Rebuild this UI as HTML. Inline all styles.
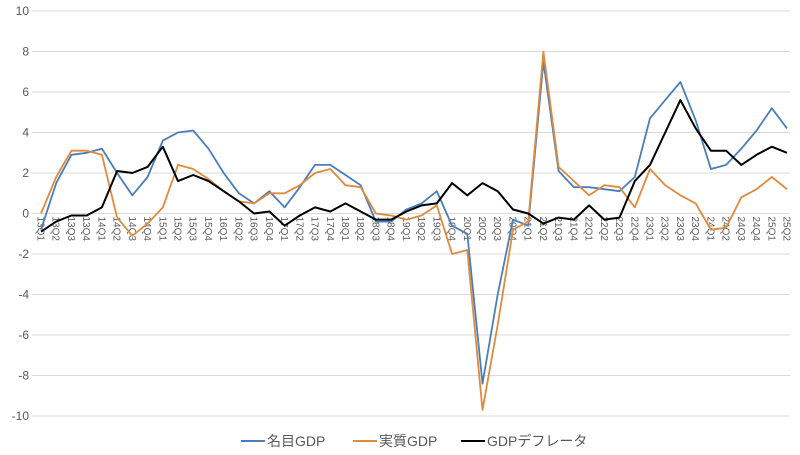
<!DOCTYPE html>
<html><head><meta charset="utf-8">
<style>
body{margin:0;background:#fff;}
svg{display:block;font-family:"Liberation Sans","Noto Sans CJK JP",sans-serif;}
</style></head><body>
<svg id="chart" width="800" height="455" viewBox="0 0 800 455"></svg>
<script>
const categories=["13Q1","13Q2","13Q3","13Q4","14Q1","14Q2","14Q3","14Q4","15Q1","15Q2","15Q3","15Q4","16Q1","16Q2","16Q3","16Q4","17Q1","17Q2","17Q3","17Q4","18Q1","18Q2","18Q3","18Q4","19Q1","19Q2","19Q3","19Q4","20Q1","20Q2","20Q3","20Q4","21Q1","21Q2","21Q3","21Q4","22Q1","22Q2","22Q3","22Q4","23Q1","23Q2","23Q3","23Q4","24Q1","24Q2","24Q3","24Q4","25Q1","25Q2"];
const nominalGDP=[-0.8,1.5,2.9,3.0,3.2,2.0,0.9,1.8,3.6,4.0,4.1,3.2,2.0,1.0,0.5,1.1,0.3,1.3,2.4,2.4,1.9,1.4,-0.4,-0.4,0.2,0.5,1.1,-0.6,-1.0,-8.4,-4.0,-0.3,-0.6,7.5,2.1,1.3,1.3,1.2,1.1,1.8,4.7,5.6,6.5,4.6,2.2,2.4,3.2,4.1,5.2,4.2];
const realGDP=[0.0,1.8,3.1,3.1,2.9,-0.2,-1.1,-0.5,0.3,2.4,2.2,1.7,1.1,0.6,0.5,1.0,1.0,1.4,2.0,2.2,1.4,1.3,0.0,-0.1,-0.3,-0.1,0.4,-2.0,-1.8,-9.7,-5.5,-0.8,-0.4,8.0,2.3,1.6,0.9,1.4,1.3,0.3,2.2,1.4,0.9,0.5,-0.8,-0.7,0.8,1.2,1.8,1.2];
const deflator=[-0.9,-0.4,-0.1,-0.1,0.3,2.1,2.0,2.3,3.3,1.6,1.9,1.6,1.1,0.6,0.0,0.1,-0.6,-0.1,0.3,0.1,0.5,0.1,-0.3,-0.3,0.1,0.4,0.5,1.5,0.9,1.5,1.1,0.2,0.0,-0.5,-0.2,-0.3,0.4,-0.3,-0.2,1.6,2.4,4.0,5.6,4.2,3.1,3.1,2.4,2.9,3.3,3.0];
const yTicks=[10,8,6,4,2,0,-2,-4,-6,-8,-10];
const seriesNames=["名目GDP","実質GDP","GDPデフレータ"];

const NS="http://www.w3.org/2000/svg";
const svg=document.getElementById('chart');
const x0=41,dx=(787-41)/(categories.length-1);
const yTop=11,yBot=416,vMax=10,vMin=-10;
function X(i){return x0+i*dx;}
function Y(v){return yTop+(vMax-v)/(vMax-vMin)*(yBot-yTop);}
function mk(t,a){const e=document.createElementNS(NS,t);for(const k in a)e.setAttribute(k,a[k]);svg.appendChild(e);return e;}

yTicks.forEach(v=>{
  const g=mk('line',{x1:32,x2:790,y1:Y(v),y2:Y(v),stroke:'#d9d9d9','stroke-width':1});
  
  
  const t=mk('text',{x:29,y:Y(v)+4,'text-anchor':'end','font-size':12,fill:'#595959'});
  t.textContent=v;
  
  
});
categories.forEach((c,i)=>{
  const t=mk('text',{x:0,y:0,'font-size':10,fill:'#595959',transform:`translate(${X(i)-3.5},${Y(0)+3}) rotate(90)`});
  t.textContent=c;
  
  
});
const colors=['#4a7ebb','#e08a3c','#000000'];
[nominalGDP,realGDP,deflator].forEach((s,k)=>{
  const p=mk('polyline',{points:s.map((v,i)=>X(i).toFixed(1)+','+Y(v).toFixed(1)).join(' '),fill:'none',stroke:colors[k],'stroke-width':k==2?2:1.8,'stroke-linejoin':'round'});
  
  
});
const lx=[241,353,461];
seriesNames.forEach((n,k)=>{
  const l=mk('line',{x1:lx[k],x2:lx[k]+24,y1:441,y2:441,stroke:colors[k],'stroke-width':2});
  
  
  const t=mk('text',{x:lx[k]+26,y:446,'font-size':14,fill:'#595959'});
  t.textContent=n;
  
  
});
</script>
</body></html>
